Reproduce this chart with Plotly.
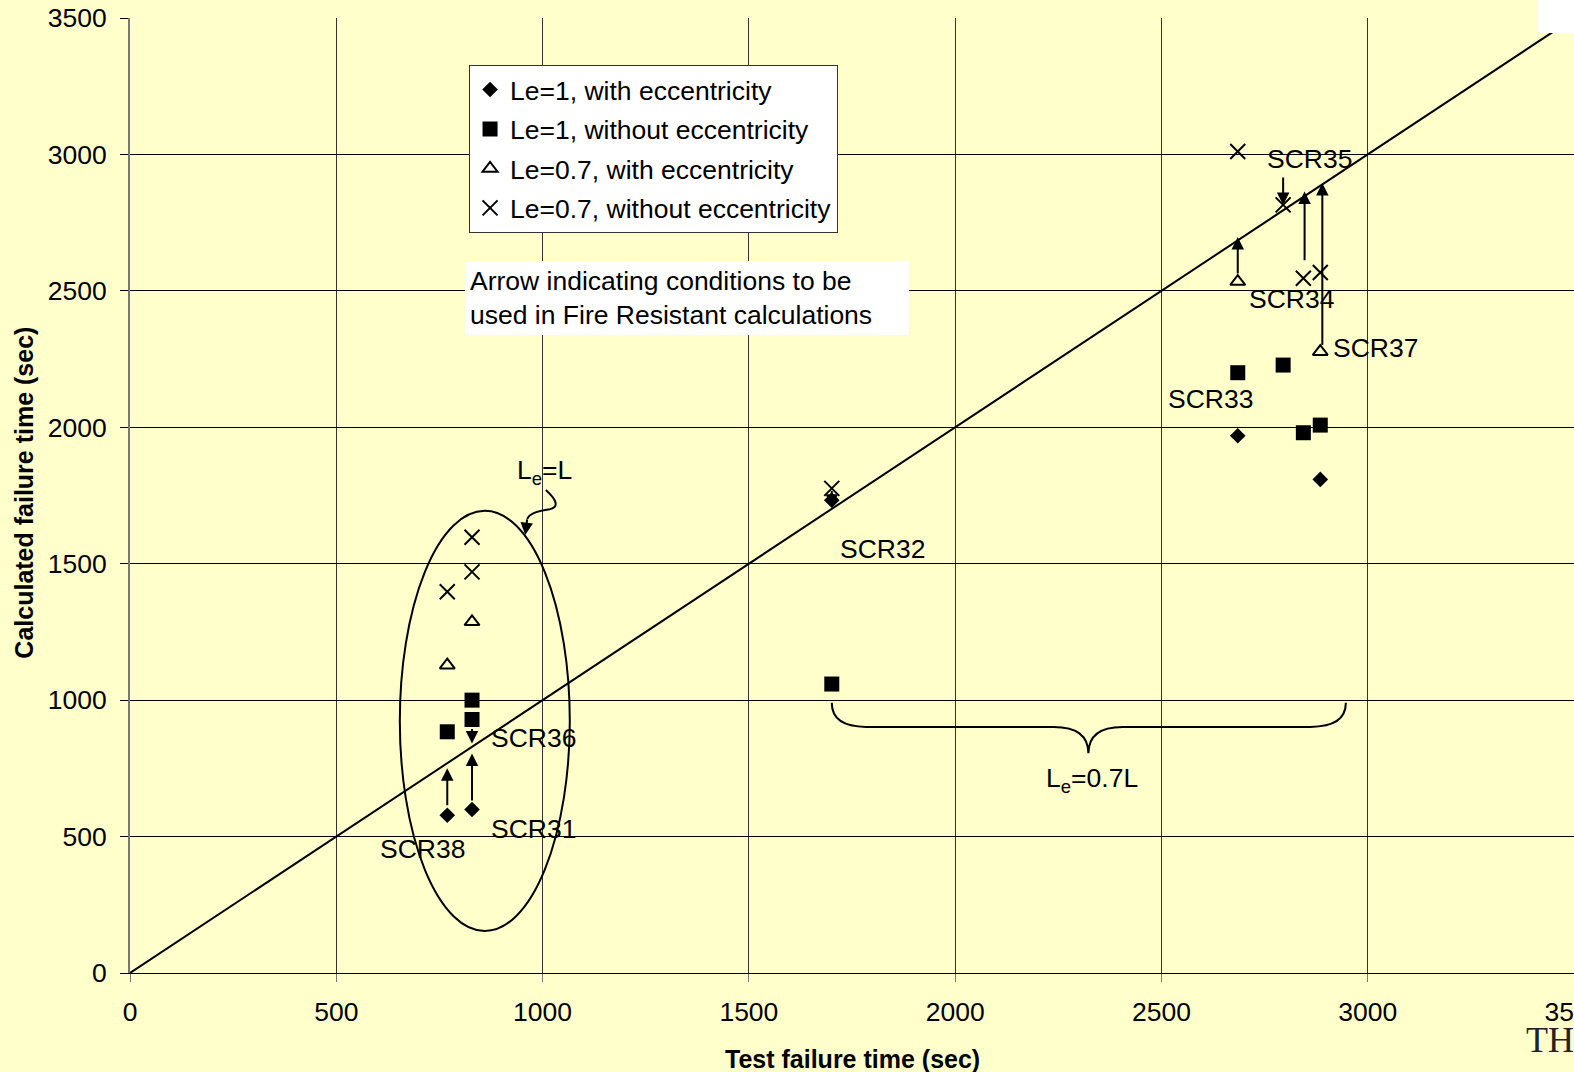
import plotly.graph_objects as go

# ---------------- data ----------------
# Le=1, with eccentricity (diamonds)
le1_ecc_x = [769, 829, 1701, 2685, 2885]
le1_ecc_y = [578, 599, 1733, 1969, 1809]
# Le=1, without eccentricity (squares)
le1_noecc_x = [769, 829, 829, 1701, 2685, 2795, 2844, 2885]
le1_noecc_y = [884, 1000, 929, 1059, 2200, 2228, 1980, 2008]
# Le=0.7, with eccentricity (open triangles)
le07_ecc_x = [769, 829, 2685, 2885]
le07_ecc_y = [1128, 1287, 2534, 2277]
# Le=0.7, without eccentricity (crosses)
le07_noecc_x = [769, 829, 829, 1701, 2685, 2795, 2844, 2885]
le07_noecc_y = [1397, 1470, 1597, 1776, 3011, 2815, 2546, 2567]

series_names = ["Le=1, with eccentricity", "Le=1, without eccentricity",
                "Le=0.7, with eccentricity", "Le=0.7, without eccentricity"]

# equality line
diag_x = [0, 3500]
diag_y = [0, 3500]

# arrows: (x, tail_y, tip_y)
arrow_x = [769, 829, 829, 1701, 2685, 2795, 2847, 2890]
arrow_tail = [609, 627, 900, 1772, 2558, 2921, 2607, 2296]
arrow_tip = [750, 804, 841, 1709, 2697, 2815, 2864, 2895]

# specimen labels
label_text = ["SCR38", "SCR31", "SCR36", "SCR32", "SCR33", "SCR35", "SCR34", "SCR37"]
label_x = [602, 869, 869, 1717, 2512, 2750, 2708, 2910]
label_y = [453, 526, 861, 1553, 2102, 2985, 2470, 2290]

x_ticks = [0, 500, 1000, 1500, 2000, 2500, 3000, 3500]
y_ticks = [0, 500, 1000, 1500, 2000, 2500, 3000, 3500]

FONT = "Liberation Sans, Arial, sans-serif"
BG = "#FFFFCC"
FS = 26.5

fig = go.Figure()

fig.add_trace(go.Scatter(x=diag_x, y=diag_y, mode="lines",
                         line=dict(color="black", width=2),
                         showlegend=False, hoverinfo="skip"))

fig.add_trace(go.Scatter(x=le1_ecc_x, y=le1_ecc_y, mode="markers", name=series_names[0],
                         legendgroup="a",
                         marker=dict(symbol="diamond", size=12, color="black")))
fig.add_trace(go.Scatter(x=le1_noecc_x, y=le1_noecc_y, mode="markers", name=series_names[1],
                         legendgroup="b",
                         marker=dict(symbol="square", size=15, color="black")))
fig.add_trace(go.Scatter(x=le07_ecc_x, y=le07_ecc_y, mode="markers", name=series_names[2],
                         legendgroup="c",
                         marker=dict(symbol="triangle-up-open", size=13, color="black",
                                     line=dict(width=2, color="black"))))
fig.add_trace(go.Scatter(x=le07_noecc_x, y=le07_noecc_y, mode="markers", name=series_names[3],
                         legendgroup="d",
                         marker=dict(symbol="x-thin-open", size=15, color="black",
                                     line=dict(width=2, color="black"))))

annotations = []
for ax_, t0, t1 in zip(arrow_x, arrow_tail, arrow_tip):
    annotations.append(dict(x=ax_, y=t1, ax=ax_, ay=t0, xref="x", yref="y",
                            axref="x", ayref="y", text="", showarrow=True,
                            arrowhead=2, arrowsize=1.25, arrowwidth=2,
                            arrowcolor="black", standoff=0, startstandoff=0))

for t, lx, ly in zip(label_text, label_x, label_y):
    annotations.append(dict(x=lx, y=ly, xref="x", yref="y", text=t, showarrow=False,
                            xanchor="left", yanchor="middle",
                            font=dict(family=FONT, size=FS, color="black")))

# Le labels
annotations.append(dict(x=1004, y=1835, xref="x", yref="y", text="L<sub>e</sub>=L",
                        showarrow=False, font=dict(family=FONT, size=FS, color="black")))
annotations.append(dict(x=2331, y=707, xref="x", yref="y", text="L<sub>e</sub>=0.7L",
                        showarrow=False, font=dict(family=FONT, size=FS, color="black")))
# arrow of the Le=L curl
annotations.append(dict(x=958, y=1605, ax=963, ay=1668, xref="x", yref="y",
                        axref="x", ayref="y", text="", showarrow=True,
                        arrowhead=2, arrowsize=1.25, arrowwidth=2, arrowcolor="black",
                        standoff=0))

# note box
annotations.append(dict(x=0.232, y=0.7455, xref="paper", yref="paper",
                        xanchor="left", yanchor="top", align="left",
                        text="Arrow indicating conditions to be<br>used in Fire Resistant calculations",
                        showarrow=False, bgcolor="white", borderpad=5, borderwidth=0,
                        width=434, font=dict(family=FONT, size=FS, color="black")))

# axis titles
annotations.append(dict(x=0.5, y=-0.0897, xref="paper", yref="paper",
                        text="<b>Test failure time (sec)</b>", showarrow=False,
                        xanchor="center", yanchor="middle",
                        font=dict(family=FONT, size=25, color="black")))
annotations.append(dict(x=-0.0734, y=0.503, xref="paper", yref="paper",
                        text="<b>Calculated failure time (sec)</b>", showarrow=False,
                        textangle=-90, xanchor="center", yanchor="middle",
                        font=dict(family=FONT, size=25, color="black")))
# partial logo text at the bottom right
annotations.append(dict(x=0.9654, y=-0.0705, xref="paper", yref="paper", text="TH",
                        showarrow=False, xanchor="left", yanchor="middle",
                        font=dict(family="Liberation Serif, serif", size=36, color="#222")))

shapes = [
    # ellipse around Le=L group
    dict(type="circle", xref="x", yref="y", x0=654, x1=1066, y0=154, y1=1694,
         line=dict(color="black", width=2), layer="above"),
    # brace for Le=0.7L
    dict(type="path", xref="x", yref="y",
         path="M 1701,990 Q 1701,902 1784,902 L 2239,902 Q 2323,902 2323,805 "
              "Q 2323,902 2406,902 L 2861,902 Q 2947,902 2947,990",
         line=dict(color="black", width=2), layer="above"),
    # curl for Le=L
    dict(type="path", xref="x", yref="y",
         path="M 1008,1770 Q 1050,1712 1018,1700 Q 968,1690 963,1664",
         line=dict(color="black", width=2), layer="above"),
    # white patch top-right
    dict(type="rect", xref="paper", yref="paper", x0=0.9744, x1=1.02, y0=0.9843, y1=1.03,
         fillcolor="white", line=dict(width=0), layer="above"),
]

fig.update_layout(
    width=1574, height=1072,
    margin=dict(l=130, r=0, t=18, b=99, autoexpand=False),
    paper_bgcolor=BG, plot_bgcolor=BG,
    font=dict(family=FONT, size=FS, color="black"),
    showlegend=True,
    legend=dict(x=0.2348, y=0.951, xanchor="left", yanchor="top",
                bgcolor="white", bordercolor="#333", borderwidth=1,
                font=dict(family=FONT, size=FS, color="black"),
                traceorder="grouped", tracegroupgap=2, itemwidth=30),
    annotations=annotations,
    shapes=shapes,
)

fig.update_xaxes(range=[0, 3500], tickvals=x_ticks, ticks="outside", ticklen=8,
                 tickcolor="#777", tickwidth=1, showgrid=True, gridcolor="#333",
                 gridwidth=1, showline=True, linecolor="black", linewidth=1,
                 zeroline=False, ticklabelstandoff=7, ticklabeloverflow="allow",
                 tickfont=dict(family=FONT, size=FS, color="black"))
fig.update_yaxes(range=[0, 3500], tickvals=y_ticks, ticks="outside", ticklen=8,
                 tickcolor="black", tickwidth=1, showgrid=True, gridcolor="black",
                 gridwidth=1, showline=True, linecolor="#777", linewidth=2,
                 zeroline=False, ticklabelstandoff=8,
                 tickfont=dict(family=FONT, size=FS, color="black"))

fig.write_html("out.html",
               config={"displayModeBar": False},
               post_script="document.body.style.margin='0';"
                           "document.body.style.overflow='hidden';"
                           "document.body.style.background='#FFFFCC';")
